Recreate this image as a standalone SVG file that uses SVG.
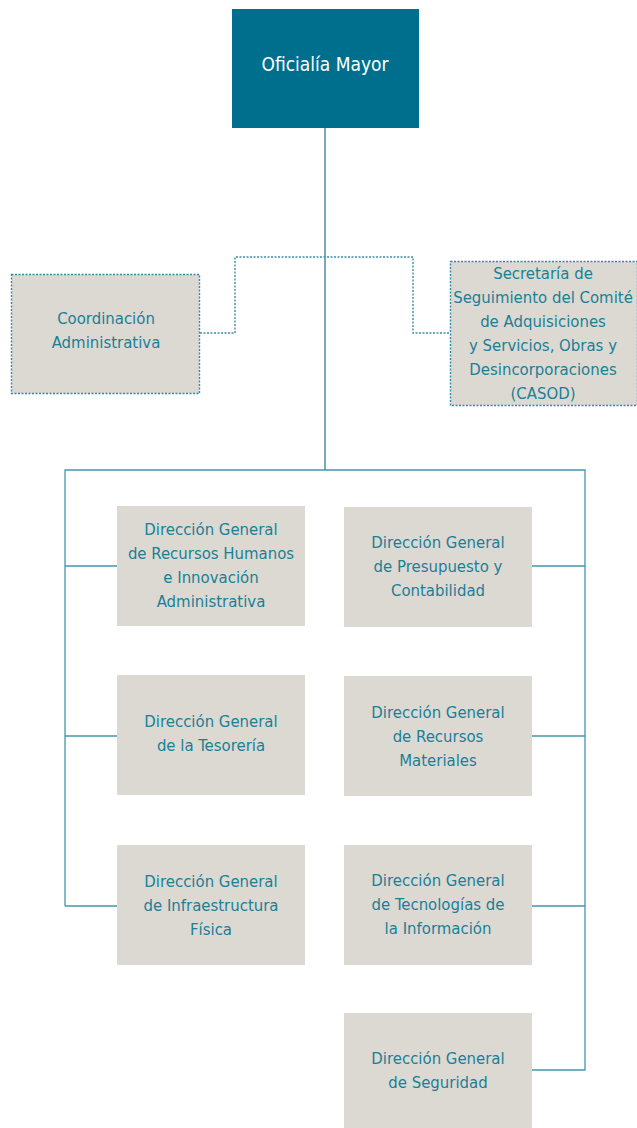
<svg xmlns="http://www.w3.org/2000/svg" width="637" height="1128" viewBox="0 0 637 1128">
<style>
.box{fill:#dcd9d3}
.dbox{fill:#dcd9d3;stroke:#2f8aa3;stroke-width:1.4;stroke-dasharray:2 1.5}
.t{font-family:"DejaVu Sans Condensed","DejaVu Sans",sans-serif;font-stretch:condensed;font-size:16.6px;fill:#1a7f97;text-anchor:middle}
.w{fill:#ffffff;font-size:19px}
.ln{fill:none;stroke:#4596ae;stroke-width:1.3}
.dl{fill:none;stroke:#3a8fa8;stroke-width:1.4;stroke-dasharray:2 1.5}
</style>
<g id="connectors">
<line x1="325" y1="128" x2="325" y2="470" stroke="#1f6f8a" stroke-width="1.2"/>
<path class="dl" d="M200,333 H235 V257 H413 V333 H450"/>
<path class="ln" d="M65,906 V470 H585 V1070 H531"/>
<path class="ln" d="M65,566 H117 M65,736 H117 M65,906 H117"/>
<path class="ln" d="M531,566 H585 M531,736 H585 M531,906 H585"/>
</g>
<g id="oficialia">
<rect x="232" y="9" width="187" height="119" fill="#006f8e"/>
<text class="t w" x="325" y="71">Oficialía Mayor</text>
</g>
<g id="coordinacion">
<rect class="dbox" x="11.5" y="274.5" width="188" height="119"/>
<text class="t" x="106" y="324">Coordinación</text>
<text class="t" x="106" y="348">Administrativa</text>
</g>
<g id="casod">
<rect class="dbox" x="450.5" y="261.5" width="187" height="144"/>
<text class="t" x="543" y="279">Secretaría de</text>
<text class="t" x="543" y="303">Seguimiento del Comité</text>
<text class="t" x="543" y="327">de Adquisiciones</text>
<text class="t" x="543" y="351">y Servicios, Obras y</text>
<text class="t" x="543" y="375">Desincorporaciones</text>
<text class="t" x="543" y="399">(CASOD)</text>
</g>
<g id="rh">
<rect class="box" x="117" y="506" width="188" height="120"/>
<text class="t" x="211" y="535">Dirección General</text>
<text class="t" x="211" y="559">de Recursos Humanos</text>
<text class="t" x="211" y="583">e Innovación</text>
<text class="t" x="211" y="607">Administrativa</text>
</g>
<g id="presupuesto">
<rect class="box" x="344" y="507" width="188" height="120"/>
<text class="t" x="438" y="548">Dirección General</text>
<text class="t" x="438" y="572">de Presupuesto y</text>
<text class="t" x="438" y="596">Contabilidad</text>
</g>
<g id="tesoreria">
<rect class="box" x="117" y="675" width="188" height="120"/>
<text class="t" x="211" y="727">Dirección General</text>
<text class="t" x="211" y="751">de la Tesorería</text>
</g>
<g id="materiales">
<rect class="box" x="344" y="676" width="188" height="120"/>
<text class="t" x="438" y="718">Dirección General</text>
<text class="t" x="438" y="742">de Recursos</text>
<text class="t" x="438" y="766">Materiales</text>
</g>
<g id="infraestructura">
<rect class="box" x="117" y="845" width="188" height="120"/>
<text class="t" x="211" y="887">Dirección General</text>
<text class="t" x="211" y="911">de Infraestructura</text>
<text class="t" x="211" y="935">Física</text>
</g>
<g id="tecnologias">
<rect class="box" x="344" y="845" width="188" height="120"/>
<text class="t" x="438" y="886">Dirección General</text>
<text class="t" x="438" y="910">de Tecnologías de</text>
<text class="t" x="438" y="934">la Información</text>
</g>
<g id="seguridad">
<rect class="box" x="344" y="1013" width="188" height="115"/>
<text class="t" x="438" y="1064">Dirección General</text>
<text class="t" x="438" y="1088">de Seguridad</text>
</g>
</svg>
